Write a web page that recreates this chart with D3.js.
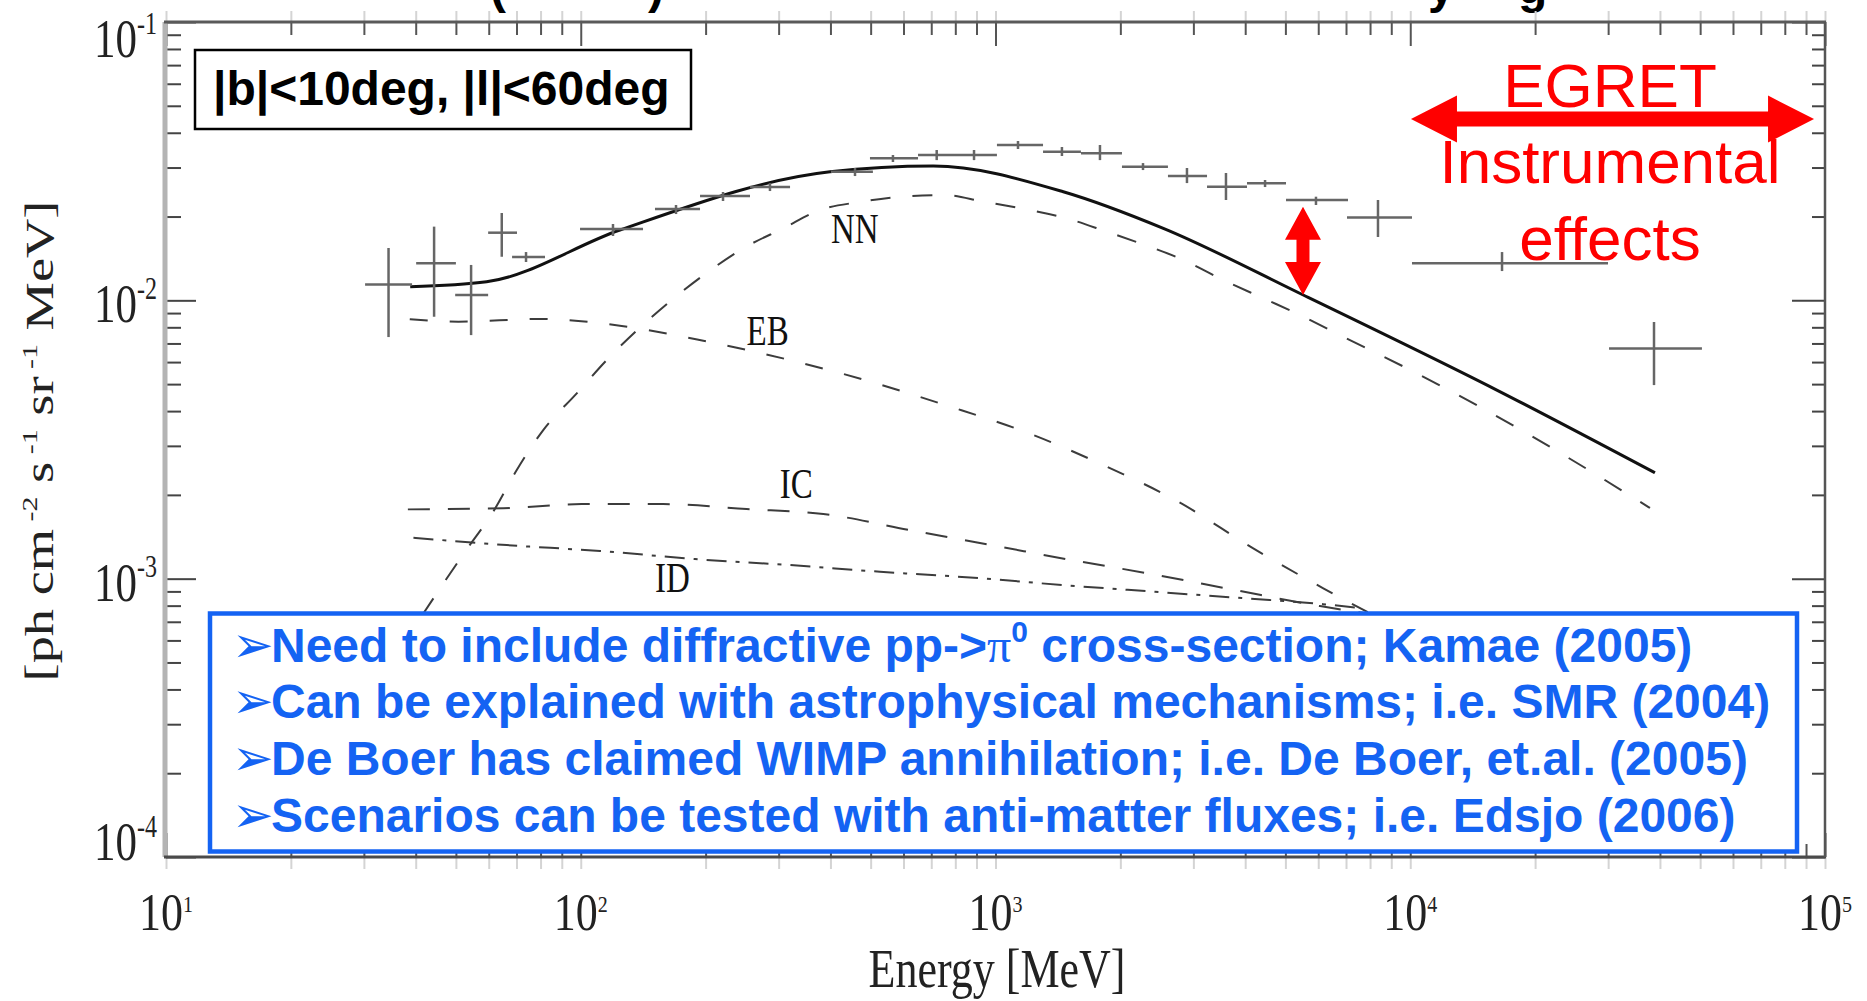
<!DOCTYPE html>
<html>
<head>
<meta charset="utf-8">
<script src="https://cdn.jsdelivr.net/npm/d3@7"></script>
<style>
  html, body { margin: 0; padding: 0; background: #fff; }
  svg { display: block; }
</style>
</head>
<body>
<div id="chart"></div>
<script>
// values: energy in MeV, flux in ph cm^-2 s^-1 sr^-1 MeV
const xDecades = [1e1, 1e2, 1e3, 1e4, 1e5];
const xTickExp = ["1", "2", "3", "4", "5"];
const yDecades = [1e-4, 1e-3, 1e-2, 1e-1];
const yTickExp = ["-4", "-3", "-2", "-1"];

// total model (solid)
const totalModel = [[38.8, 0.01119], [59.3, 0.01166], [124.3, 0.01789], [399, 0.02898], [708, 0.03039],
  [1457, 0.02456], [2539, 0.01814], [5521, 0.01045], [16170, 0.00476], [38900, 0.002401]];

// components
const nnComp = [[41.5, 0.00074], [44.96, 0.000886], [52.6, 0.00125], [61.5, 0.00174], [70.1, 0.002457],
  [81.2, 0.00342], [97.8, 0.00463], [115.5, 0.0061], [165.7, 0.01003], [203, 0.01267], [246.6, 0.01538],
  [307.8, 0.01815], [377.6, 0.02111], [475.9, 0.02261], [594, 0.02357], [755, 0.0239], [934, 0.02261],
  [1178, 0.02128], [1485, 0.0197], [1854, 0.01764], [2293, 0.0158], [2837, 0.01396], [3542, 0.01183],
  [4424, 0.01017], [5423, 0.00886], [6771, 0.0075], [10360, 0.00547], [15720, 0.003926], [23840, 0.00274],
  [35800, 0.00189], [37850, 0.001795]];
const ebComp = [[38.7, 0.00855], [50.7, 0.00838], [79.7, 0.00857], [125.5, 0.00809], [197.5, 0.00716],
  [313.7, 0.00614], [484.6, 0.00517], [755, 0.00421], [1178, 0.00337], [1819, 0.00256], [2759, 0.00189],
  [4183, 0.001285], [6171, 0.000923], [8000, 0.00075]];
const icComp = [[38.3, 0.001774], [65.1, 0.00179], [100.5, 0.001853], [158, 0.001853], [251, 0.001778],
  [384.4, 0.001707], [622, 0.001495], [979, 0.00132], [1527, 0.001166], [2380, 0.001039], [3780, 0.00091],
  [6060, 0.000797], [7870, 0.00075]];
const idComp = [[39.5, 0.001403], [66.3, 0.00132], [111.3, 0.001257], [188.6, 0.001176], [319.6, 0.001119],
  [526.7, 0.001059], [868, 0.00101], [1457, 0.000948], [2424, 0.000897], [3996, 0.00085], [6160, 0.00081],
  [7565, 0.000784]];

const compLabels = [["NN", 401, 0.01606], ["EB", 251, 0.00691], ["IC", 302, 0.00195], ["ID", 151, 0.000897]];

// EGRET data: [E, E low, E high, flux, flux low, flux high]
const egretPoints = [
  [34.4, 30.2, 39.2, 0.01141, 0.00738, 0.01542],
  [44.3, 40.1, 50.0, 0.0136, 0.00873, 0.0184],
  [54.4, 49.8, 59.8, 0.01045, 0.0075, 0.0134],
  [64.5, 59.8, 70.2, 0.0175, 0.01434, 0.0206],
  [73.8, 68.3, 82.0, 0.0143, 0.01373, 0.01491],
  [119.6, 99.6, 141.3, 0.01804, 0.01703, 0.0188],
  [169.7, 151, 193.9, 0.02128, 0.02042, 0.022],
  [220.3, 193.9, 255.9, 0.0237, 0.02274, 0.0245],
  [285.9, 255.9, 319.6, 0.02553, 0.0247, 0.02638],
  [458.4, 401.1, 506.3, 0.02898, 0.02796, 0.02988],
  [565.9, 498.1, 650.4, 0.03237, 0.0314, 0.03327],
  [721.5, 650.4, 798.6, 0.03327, 0.0319, 0.03468],
  [887.6, 798.6, 1008, 0.03327, 0.0319, 0.03468],
  [1133, 1008, 1302, 0.03614, 0.03497, 0.03736],
  [1446, 1302, 1607, 0.0342, 0.033, 0.03555],
  [1786, 1607, 2018, 0.03375, 0.0319, 0.03614],
  [2268, 2018, 2605, 0.0302, 0.02938, 0.03113],
  [2895, 2605, 3236, 0.02796, 0.02638, 0.02988],
  [3595, 3236, 4040, 0.0256, 0.02293, 0.02867],
  [4466, 4040, 5017, 0.02633, 0.02553, 0.02706],
  [5925, 5017, 7078, 0.02293, 0.022, 0.02357],
  [8360, 7039, 10097, 0.01984, 0.01689, 0.02293],
  [16645, 10097, 29980, 0.01358, 0.01274, 0.01491],
  [38700, 30150, 50500, 0.00672, 0.00496, 0.00836]
];

// annotations
const egretBand = [10040, 94100];
const egretArrowFlux = 0.0448;
const excessArrow = [5513, 0.02169, 0.01045];
const regionText = "|b|<10deg, |l|<60deg";
const notes = [
  ["Need to include diffractive pp->", "\u03c0", "0", " cross-section; Kamae (2005)"],
  ["Can be explained with astrophysical mechanisms; i.e. SMR (2004)"],
  ["De Boer has claimed WIMP annihilation; i.e. De Boer, et.al. (2005)"],
  ["Scenarios can be tested with anti-matter fluxes; i.e. Edsjo (2006)"]
];

const W = 1867, H = 1001;
const blue = "#1463f3";
const serif = "'Liberation Serif', 'DejaVu Serif', serif";
const sans = "'Liberation Sans', Arial, sans-serif";

const svg = d3.select("#chart").append("svg")
  .attr("width", W).attr("height", H)
  .attr("viewBox", `0 0 ${W} ${H}`);

svg.append("rect").attr("width", W).attr("height", H).attr("fill", "#fff");

const x = d3.scaleLog().domain([1e1, 1e5]).range([166, 1825]);
const y = d3.scaleLog().domain([1e-4, 1e-1]).range([857, 22]);

// title line cut off by the top edge, as in the slide (only descenders show)
const titleFrag = svg.append("text").attr("font-family", sans).attr("font-weight", "bold")
  .attr("font-size", 48).attr("fill", "#000").attr("y", 3);
[["(", 490], [")", 648], ["y", 1428], ["g", 1518]].forEach(([s, px]) =>
  titleFrag.append("tspan").attr("x", px).text(s));

// minor tick values
const xMinor = [], yMinor = [];
xDecades.slice(0, -1).forEach(d => { for (let k = 2; k < 10; k++) xMinor.push(d * k); });
yDecades.slice(0, -1).forEach(d => { for (let k = 2; k < 10; k++) yMinor.push(d * k); });

function tickAxis(axis, tx, ty, color, width) {
  const g = svg.append("g").attr("transform", `translate(${tx},${ty})`).call(axis);
  g.select(".domain").remove();
  g.selectAll(".tick line").attr("stroke", color).attr("stroke-width", width);
  g.selectAll(".tick text").remove();
}

// faint ghost ticks outside top/bottom frame
tickAxis(d3.axisTop(x).tickValues(xMinor.concat(xDecades)).tickSize(11), 0, 22, "#d4d4d4", 2);
tickAxis(d3.axisBottom(x).tickValues(xMinor.concat(xDecades)).tickSize(12), 0, 857, "#d4d4d4", 2);

// inward ticks
tickAxis(d3.axisTop(x).tickValues(xMinor).tickSize(-13), 0, 22, "#555", 2);
tickAxis(d3.axisTop(x).tickValues(xDecades).tickSize(-24), 0, 22, "#555", 2);
tickAxis(d3.axisBottom(x).tickValues(xMinor).tickSize(-13), 0, 857, "#555", 2);
tickAxis(d3.axisBottom(x).tickValues(xDecades).tickSize(-24), 0, 857, "#555", 2);
tickAxis(d3.axisLeft(y).tickValues(yMinor).tickSize(-15), 166, 0, "#444", 2);
tickAxis(d3.axisLeft(y).tickValues(yDecades).tickSize(-30), 166, 0, "#444", 2);
tickAxis(d3.axisRight(y).tickValues(yMinor).tickSize(-13), 1825, 0, "#444", 2);
tickAxis(d3.axisRight(y).tickValues(yDecades).tickSize(-33), 1825, 0, "#444", 2);

// frame
svg.append("line").attr("x1", 165).attr("x2", 165).attr("y1", 22).attr("y2", 857)
  .attr("stroke", "#b4b4b4").attr("stroke-width", 5);
svg.append("line").attr("x1", 164).attr("x2", 1826).attr("y1", 22).attr("y2", 22)
  .attr("stroke", "#5a5a5a").attr("stroke-width", 3);
svg.append("line").attr("x1", 164).attr("x2", 1826).attr("y1", 857).attr("y2", 857)
  .attr("stroke", "#4a4a4a").attr("stroke-width", 3);
svg.append("line").attr("x1", 1825).attr("x2", 1825).attr("y1", 22).attr("y2", 857)
  .attr("stroke", "#555").attr("stroke-width", 2.5);

// stretched text helper (the plot image is stretched vertically)
function stretchedText(px, py, sy, anchor) {
  return svg.append("g").attr("transform", `translate(${px},${py}) scale(1,${sy})`)
    .append("text").attr("text-anchor", anchor);
}

// y tick labels
yDecades.forEach((v, i) => {
  const base = Math.min(860, Math.max(57, y(v) + 22));
  const t = stretchedText(157, base, 1.3, "end")
    .attr("font-family", serif).attr("font-size", 43).attr("fill", "#222");
  t.append("tspan").text("10");
  t.append("tspan").attr("font-size", 24).attr("dy", -18).text(yTickExp[i]);
});

// x tick labels
xDecades.forEach((v, i) => {
  const t = stretchedText(x(v), 930, 1.2, "middle")
    .attr("font-family", serif).attr("font-size", 44).attr("fill", "#222");
  t.append("tspan").text("10");
  t.append("tspan").attr("font-size", 20).attr("dy", -15).text(xTickExp[i]);
});

// axis titles
stretchedText(997, 987, 1.23, "middle")
  .attr("font-family", serif).attr("font-size", 44).attr("fill", "#222")
  .text("Energy [MeV]");

const yt = svg.append("g").attr("transform", "translate(53,441) rotate(-90) scale(1.36,1)")
  .append("text").attr("text-anchor", "middle")
  .attr("font-family", serif).attr("font-size", 40).attr("fill", "#222");
[["[ph cm", 0], ["-2", 1], [" s", 0], ["-1", 1], [" sr", 0], ["-1", 1], [" MeV]", 0]].forEach(([s, sup], i, arr) => {
  const prevSup = i > 0 && arr[i - 1][1];
  yt.append("tspan")
    .attr("font-size", sup ? 22 : 40)
    .attr("dy", sup ? -16 : (prevSup ? 16 : 0))
    .text(sup ? " " + s : s);
});

// component curves
const line = d3.line().x(d => x(d[0])).y(d => y(d[1])).curve(d3.curveMonotoneX);
const compStyle = {
  NN: "20 22",
  EB: "18 22",
  IC: "22 18",
  ID: "20 9 4 9"
};
[["NN", nnComp], ["EB", ebComp], ["IC", icComp], ["ID", idComp]].forEach(([name, data]) => {
  svg.append("path").datum(data).attr("d", line)
    .attr("fill", "none").attr("stroke", "#3c3c3c").attr("stroke-width", 2)
    .attr("stroke-dasharray", compStyle[name]);
});

svg.append("path").datum(totalModel).attr("d", line)
  .attr("fill", "none").attr("stroke", "#111").attr("stroke-width", 3);

// EGRET crosses
const pts = svg.append("g").attr("stroke", "#666").attr("stroke-width", 2.5);
pts.selectAll("line.h").data(egretPoints).join("line").attr("class", "h")
  .attr("x1", d => x(d[1])).attr("x2", d => x(d[2]))
  .attr("y1", d => y(d[3])).attr("y2", d => y(d[3]));
pts.selectAll("line.v").data(egretPoints).join("line").attr("class", "v")
  .attr("x1", d => x(d[0])).attr("x2", d => x(d[0]))
  .attr("y1", d => y(d[4])).attr("y2", d => y(d[5]));

// component labels
compLabels.forEach(([name, e, f]) => {
  stretchedText(x(e), y(f), 1.25, "start")
    .attr("font-family", serif).attr("font-size", 33).attr("fill", "#111").text(name);
});

// region box
svg.append("rect").attr("x", 195).attr("y", 50).attr("width", 496).attr("height", 79)
  .attr("fill", "#fff").attr("stroke", "#000").attr("stroke-width", 2.5);
svg.append("text").attr("x", 213).attr("y", 105)
  .attr("font-family", sans).attr("font-weight", "bold").attr("font-size", 48).attr("fill", "#000")
  .text(regionText);

// notes box
svg.append("rect").attr("x", 210).attr("y", 613.5).attr("width", 1587).attr("height", 238)
  .attr("fill", "#fff").attr("stroke", blue).attr("stroke-width", 4.5);
notes.forEach((parts, i) => {
  const by = 661.7 + i * 56.7;
  svg.append("text").attr("x", 232).attr("y", by)
    .attr("font-family", "'DejaVu Sans', sans-serif").attr("font-size", 50).attr("fill", blue)
    .text("\u27a2");
  const t = svg.append("text").attr("x", 271).attr("y", by)
    .attr("font-family", sans).attr("font-weight", "bold").attr("font-size", 48).attr("fill", blue);
  if (parts.length === 1) {
    t.text(parts[0]);
  } else {
    t.append("tspan").text(parts[0]);
    t.append("tspan").attr("font-family", serif).attr("font-weight", "normal").text(parts[1]);
    t.append("tspan").attr("font-size", 30).attr("dy", -20).text(parts[2]);
    t.append("tspan").attr("dy", 20).text(parts[3]);
  }
});

// red EGRET arrow
const red = "#ff0000";
const ax0 = x(egretBand[0]), ax1 = x(egretBand[1]), ay = y(egretArrowFlux);
const headL = 46, headH = 23.5, shaftH = 7.5;
svg.append("polygon").attr("fill", red).attr("points", [
  [ax0, ay], [ax0 + headL, ay - headH], [ax0 + headL, ay - shaftH], [ax1 - headL, ay - shaftH],
  [ax1 - headL, ay - headH], [ax1, ay], [ax1 - headL, ay + headH], [ax1 - headL, ay + shaftH],
  [ax0 + headL, ay + shaftH], [ax0 + headL, ay + headH]
].map(p => p.join(",")).join(" "));

const redText = svg.append("g").attr("font-family", sans).attr("font-size", 62)
  .attr("fill", red).attr("text-anchor", "middle");
[["EGRET", 107], ["Instrumental", 183], ["effects", 260]].forEach(([s, by]) =>
  redText.append("text").attr("x", 1610).attr("y", by).text(s));

// red excess arrow
const vx = x(excessArrow[0]), vy0 = y(excessArrow[1]), vy1 = y(excessArrow[2]);
const vHead = 33, vHalf = 18, vShaft = 6.5;
svg.append("polygon").attr("fill", red).attr("points", [
  [vx, vy0], [vx + vHalf, vy0 + vHead], [vx + vShaft, vy0 + vHead], [vx + vShaft, vy1 - vHead],
  [vx + vHalf, vy1 - vHead], [vx, vy1], [vx - vHalf, vy1 - vHead], [vx - vShaft, vy1 - vHead],
  [vx - vShaft, vy0 + vHead], [vx - vHalf, vy0 + vHead]
].map(p => p.join(",")).join(" "));
</script>
</body>
</html>
